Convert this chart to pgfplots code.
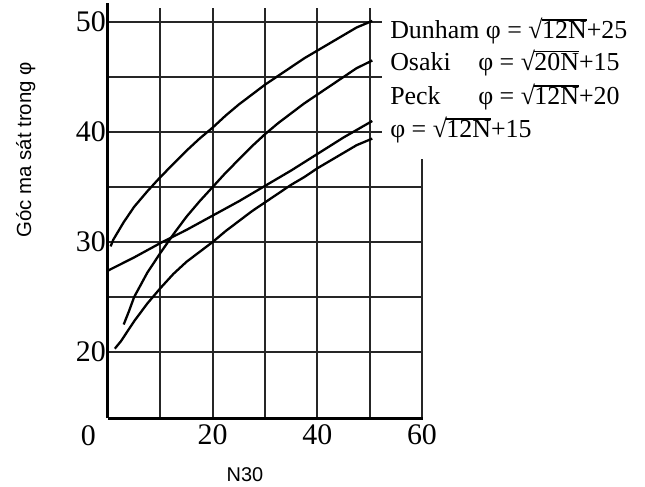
\documentclass[border=0pt]{standalone}
\usepackage{pgfplots}
\pgfplotsset{compat=1.18}
\usepackage{fontspec}
\setmainfont{Liberation Serif}
\setsansfont{Liberation Sans}

\pgfplotstableread{
N    phi
0.5  29.6
1    30.2
2    31.0
3    31.8
5    33.2
7.5  34.6
10   35.9
12.5 37.1
15   38.3
17.5 39.4
20   40.4
22.5 41.5
25   42.5
27.5 43.4
30   44.3
32.5 45.1
35   45.9
37.5 46.7
40   47.4
42.5 48.1
45   48.8
47.5 49.5
50.5 50.1
}\dunham

\pgfplotstableread{
N    phi
3    22.5
4    23.7
5    25.0
7.5  27.2
10   29.0
12.5 30.7
15   32.3
17.5 33.7
20   35.0
22.5 36.3
25   37.5
27.5 38.7
30   39.8
32.5 40.8
35   41.7
37.5 42.6
40   43.4
42.5 44.2
45   45.0
47.5 45.8
50.5 46.5
}\osaki

\pgfplotstableread{
N    phi
0    27.4
5    28.6
10   29.9
15   31.1
20   32.4
25   33.7
30   35.1
35   36.5
40   38.0
45   39.5
50.5 41.0
}\peck

\pgfplotstableread{
N    phi
1.3  20.3
2.5  21.0
5    22.8
7.5  24.4
10   25.8
12.5 27.1
15   28.2
17.5 29.1
20   30.0
22.5 31.0
25   31.9
27.5 32.8
30   33.6
32.5 34.4
35   35.2
37.5 35.9
40   36.7
42.5 37.4
45   38.1
47.5 38.8
50.5 39.4
}\sqrtfifteen

\newcommand{\rt}[1]{√\kern-0.5pt\leavevmode\vbox{\hrule height 1.2pt\kern 1.2pt\hbox{#1}}}

\begin{document}
\begin{tikzpicture}
\useasboundingbox (-108bp,-69bp) rectangle (537bp,418bp);
\begin{axis}[
  at={(0,0)}, anchor=south west,
  scale only axis, width=314bp, height=412.5bp,
  xmin=0, xmax=60, ymin=14, ymax=51.5,
  axis line style={draw=none},
  major tick length=0pt,
  xtick={20,40,60}, ytick={20,30,40,50},
  extra y ticks={14}, extra y tick labels={0},
  extra y tick style={yticklabel style={yshift=-18bp, xshift=-10bp}},
  /pgf/number format/assume math mode=true,
  ticklabel style={font=\fontsize{30}{30}\selectfont},
  yticklabel style={inner sep=2bp},
  xticklabel style={inner sep=2bp, yshift=-4bp},
  clip=false,
  xlabel={N30},
  ylabel={Góc ma sát trong φ},
  xlabel style={font=\sffamily\fontsize{20}{20}\selectfont, at={(axis description cs:0.436,-0.138)}, anchor=center},
  ylabel style={font=\sffamily\fontsize{20.5}{20.5}\selectfont, at={(axis description cs:-0.262,0.65)}, anchor=center},
]
% grid lines
\pgfplotsset{grid line/.style={black!85, line width=1.8bp, forget plot}}
\addplot[grid line] coordinates {(10,14) (10,51.3)};
\addplot[grid line] coordinates {(20,14) (20,51.3)};
\addplot[grid line] coordinates {(30,14) (30,51.3)};
\addplot[grid line] coordinates {(40,14) (40,51.3)};
\addplot[grid line] coordinates {(50,14) (50,51.3)};
\addplot[grid line] coordinates {(60,14) (60,37.5)};
\addplot[grid line] coordinates {(0,50) (52.4,50)};
\addplot[grid line] coordinates {(0,45) (52.4,45)};
\addplot[grid line] coordinates {(0,40) (52.4,40)};
\addplot[grid line] coordinates {(0,35) (60,35)};
\addplot[grid line] coordinates {(0,30) (60,30)};
\addplot[grid line] coordinates {(0,25) (60,25)};
\addplot[grid line] coordinates {(0,20) (60,20)};
% axes
\addplot[black, line width=3bp, forget plot] coordinates {(0,14) (0,51.7)};
\addplot[black, line width=3bp, forget plot] coordinates {(0,14) (60.2,14)};
% curves
\addplot[black, line width=2.3bp, line join=round] table[x=N,y=phi] {\dunham};
\addplot[black, line width=2.3bp, line join=round] table[x=N,y=phi] {\osaki};
\addplot[black, line width=2.3bp, line join=round] table[x=N,y=phi] {\peck};
\addplot[black, line width=2.3bp, line join=round] table[x=N,y=phi] {\sqrtfifteen};
% labels
\begin{scope}[every node/.style={anchor=west, inner sep=0pt, font=\fontsize{26}{26}\selectfont, text height=0.75em, text depth=0.22em}]
\node at (axis cs:53.9,48.7) {Dunham φ = \rt{12N}+25};
\node at (axis cs:53.9,45.8) {\makebox[88bp][l]{Osaki}φ = \rt{20N}+15};
\node at (axis cs:53.9,42.7) {\makebox[88bp][l]{Peck}φ = \rt{12N}+20};
\node at (axis cs:53.9,39.7) {φ = \rt{12N}+15};
\end{scope}
\end{axis}
\end{tikzpicture}
\end{document}
